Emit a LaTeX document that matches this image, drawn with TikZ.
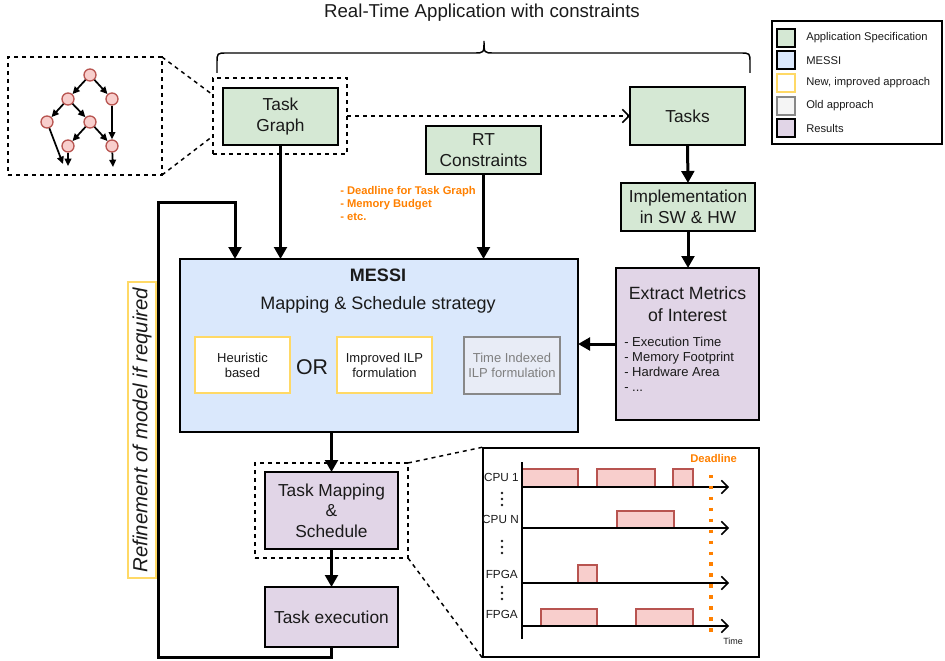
\documentclass[tikz,border=0pt]{standalone}
\usepackage{fontspec}
\setmainfont{Liberation Sans}
\usetikzlibrary{arrows.meta}
\definecolor{gfill}{HTML}{D5E8D4}
\definecolor{bfill}{HTML}{DAE8FC}
\definecolor{pfill}{HTML}{E1D5E7}
\definecolor{rfill}{HTML}{F8CECC}
\definecolor{rdraw}{HTML}{B85450}
\definecolor{yel}{HTML}{FFD966}
\definecolor{orng}{HTML}{FF8000}
\definecolor{oldfill}{HTML}{E8ECF6}
\definecolor{olddraw}{HTML}{888888}
\definecolor{oldtext}{HTML}{7F7F7F}
\definecolor{ink}{HTML}{1A1A1A}
\tikzset{
  sz/.style 2 args={minimum width=#1*0.75pt, minimum height=#2*0.75pt},
  base/.style={draw=black, line width=1.2pt, inner sep=0pt, outer sep=0pt, align=center, text=ink,
    font=\fontsize{13}{15.5}\selectfont},
  appbox/.style={base, fill=gfill},
  messibox/.style={base, fill=bfill},
  resbox/.style={base, fill=pfill},
  newbox/.style={base, draw=yel, fill=white, font=\fontsize{9.75}{11.25}\selectfont},
  oldbox/.style={base, draw=olddraw, fill=oldfill, text=oldtext, font=\fontsize{9.75}{11.25}\selectfont},
  dashbox/.style={draw=black, dash pattern=on 3pt off 3pt, line width=1.1pt, inner sep=0pt, outer sep=0pt},
  dsh/.style={draw=black, dash pattern=on 3pt off 3pt, line width=1.1pt},
  arr/.style={line width=2.25pt, -{Triangle[length=9pt,width=9.5pt]}},
  gnode/.style={circle, draw=rdraw, fill=rfill, line width=1pt, minimum size=9pt, inner sep=0pt},
  garr/.style={line width=1.3pt, -{Triangle[length=5.5pt,width=5pt]}},
  bar/.style={draw=rdraw, fill=rfill, line width=1.1pt},
  gaxis/.style={line width=1.1pt, -{Straight Barb[length=5pt,width=10pt,line width=1.1pt]}},
  swatch/.style={draw=black, line width=1.5pt, minimum width=13pt, minimum height=13.5pt, inner sep=0pt},
  legtext/.style={anchor=west, inner sep=0pt, text=ink, font=\fontsize{8.4}{10}\selectfont},
  glabel/.style={anchor=east, inner sep=0pt, text=ink, font=\fontsize{8.8}{10}\selectfont},
}
\begin{document}
\begin{tikzpicture}[x=0.75pt,y=-0.75pt]
\useasboundingbox (0,0) rectangle (945,660);

% title and brace
\node[text=ink, font=\fontsize{14}{16}\selectfont] (title) at (482,13) {Real-Time Application with constraints};
\draw[line width=1.1pt] (217,73) -- (217,63) .. controls (217,53) .. (227,53) -- (474,53)
  .. controls (484,53) .. (484,41) .. controls (484,53) .. (494,53) -- (740,53)
  .. controls (750,53) .. (750,63) -- (750,73);

% legend
\node[draw=black, line width=1.1pt, sz={170}{123}, inner sep=0pt] (legend) at (857,82.5) {};
\node[swatch, fill=gfill] (s1) at (786,38) {};
\node[swatch, fill=bfill] (s2) at (786,60.5) {};
\node[swatch, draw=yel, fill=white] (s3) at (786,83) {};
\node[swatch, draw=olddraw, fill=white!96!black] (s4) at (786,105.5) {};
\node[swatch, fill=pfill] (s5) at (786,128) {};
\node[legtext] (l1) at (806,38) {Application Specification};
\node[legtext] (l2) at (806,60.5) {MESSI};
\node[legtext] (l3) at (806,83) {New, improved approach};
\node[legtext] (l4) at (806,105.5) {Old approach};
\node[legtext] (l5) at (806,128) {Results};

% top boxes
\node[dashbox, sz={134}{76}] (tgd) at (280,116) {};
\node[appbox, sz={115}{57}] (tg) at (280.5,116.5) {Task\\Graph};
\node[appbox, sz={115}{58}] (tasks) at (687.5,116) {Tasks};
\node[appbox, sz={115}{48}] (rt) at (483.5,150) {RT\\Constraints};
\node[appbox, sz={134}{48}] (impl) at (688,207) {Implementation\\in SW \& HW};

\node[anchor=west, align=left, inner sep=0pt, text=orng, font=\bfseries\fontsize{8.4}{9.75}\selectfont] (cons) at (340,203)
  {- Deadline for Task Graph\\- Memory Budget\\- etc.};

% inset graph
\node[dashbox, sz={154}{118}] (inset) at (85,116) {};
\node[gnode] (g1) at (90,75) {};
\node[gnode] (g2) at (68,99) {};
\node[gnode] (g3) at (112,99) {};
\node[gnode] (g4) at (47,122) {};
\node[gnode] (g5) at (90,122) {};
\node[gnode] (g6) at (68,146) {};
\node[gnode] (g7) at (112,146) {};
\coordinate (e4) at (63,164);
\coordinate (e6) at (68,166);
\coordinate (e7) at (113,167);
\draw[garr] (g1) -- (g2);
\draw[garr] (g1) -- (g3);
\draw[garr] (g2) -- (g4);
\draw[garr] (g2) -- (g5);
\draw[garr] (g3) -- (g7);
\draw[garr] (g5) -- (g6);
\draw[garr] (g5) -- (g7);
\draw[garr] (g4) -- (e4);
\draw[garr] (g6) -- (e6);
\draw[garr] (g7) -- (e7);
\coordinate (z1) at (213,95);
\coordinate (z2) at (213,136);
\draw[dsh] (inset.north east) -- (z1);
\draw[dsh] (inset.south east) -- (z2);

% MESSI
\node[messibox, sz={398}{173}] (messi) at (379,345.5) {};
\node[text=ink, font=\bfseries\fontsize{13.5}{16}\selectfont] (messit) at (378,275) {MESSI};
\node[text=ink, font=\fontsize{13.5}{16}\selectfont] (messis) at (378,305) {Mapping \& Schedule strategy};
\node[newbox, sz={95}{56}] (heur) at (242.5,365) {Heuristic\\based};
\node[text=ink, font=\fontsize{16}{18}\selectfont] (or) at (312,367) {OR};
\node[newbox, sz={95}{56}] (ilp) at (384.5,365) {Improved ILP\\formulation};
\node[oldbox, sz={96}{57}] (tidx) at (512,365.5) {Time Indexed\\ILP formulation};

% extract metrics
\node[resbox, sz={143}{152}] (extract) at (687.5,344) {};
\node[text=ink, align=center, font=\fontsize{13.3}{16.5}\selectfont] (extt) at (687.5,304) {Extract Metrics\\of Interest};
\node[anchor=north west, align=left, inner sep=0pt, text=ink, font=\fontsize{9.75}{11.25}\selectfont] (extl) at (624,336.5)
  {- Execution Time\\- Memory Footprint\\- Hardware Area\\- ...};

% results
\node[dashbox, sz={153}{95}] (tmsd) at (331.5,510.5) {};
\node[resbox, sz={133}{77}] (tms) at (331.5,510.5) {Task Mapping\\\&\\Schedule};
\node[resbox, sz={133}{60}] (texec) at (331.5,617) {Task execution};

% refinement label
\node[draw=yel, fill=white, line width=1.1pt, rotate=90, inner sep=0pt, text=ink,
  minimum width=296*0.75pt, minimum height=28*0.75pt,
  font=\itshape\fontsize{15.3}{18}\selectfont] (refine) at (142,430) {Refinement of model if required};

% connectors
\draw[arr] (tg.south) -- (tg.south |- messi.north);
\draw[arr] (rt.south) -- (rt.south |- messi.north);
\draw[arr] (tasks.south) -- (impl.north);
\draw[arr] (impl.south) -- (impl.south |- extract.north);
\draw[arr] (extract.west) -- (extract.west -| messi.east);
\draw[arr] (tms.north |- messi.south) -- (tms.north);
\draw[arr] (tms.south) -- (texec.north);
\draw[dsh, -{Straight Barb[length=5pt,width=10pt,line width=1.1pt]}] (tgd.east) -- (tasks.west);
\coordinate (fbA) at (158,657);
\coordinate (fbB) at (158,202);
\coordinate (fbC) at (235,202);
\draw[arr] (texec.south) |- (fbA) -- (fbB) -- (fbC) -- (fbC |- messi.north);

% gantt chart
\node[draw=black, line width=1.1pt, sz={276}{209}, inner sep=0pt] (gantt) at (621,552.5) {};
\draw[dsh] (tmsd.north east) -- (gantt.north west);
\draw[dsh] (tmsd.south east) -- (gantt.south west);
\draw[bar] (522,469) rectangle (578,487);
\draw[bar] (597,469) rectangle (655,487);
\draw[bar] (673,469) rectangle (693,487);
\draw[bar] (617,511) rectangle (674,528);
\draw[bar] (578,565) rectangle (597,583);
\draw[bar] (541,609) rectangle (597,626);
\draw[bar] (636,609) rectangle (693,626);
\draw[line width=1.1pt] (522,462) -- (522,639);
\draw[gaxis] (522,487) -- (729,487);
\draw[gaxis] (522,528) -- (729,528);
\draw[gaxis] (522,583) -- (729,583);
\draw[gaxis] (522,626) -- (729,626);
\draw[orng, line width=2.6pt, dash pattern=on 2.6pt off 5.6pt] (711,475) -- (711,638);
\node[anchor=west, inner sep=0pt, text=orng, font=\bfseries\fontsize{8.4}{10}\selectfont] (dl) at (690,458) {Deadline};
\node[anchor=west, inner sep=0pt, text=ink, font=\fontsize{6.75}{8}\selectfont] (time) at (723,641) {Time};
\node[glabel] (c1) at (519,477) {CPU 1};
\node[glabel] (cn) at (519,519) {CPU N};
\node[glabel] (f1) at (518,574) {FPGA};
\node[glabel] (f2) at (518,614) {FPGA};
\foreach \yy in {493,499,505, 541,547,553, 587,593,599} \fill[ink] (502,\yy) circle (1.1pt);
\end{tikzpicture}
\end{document}
